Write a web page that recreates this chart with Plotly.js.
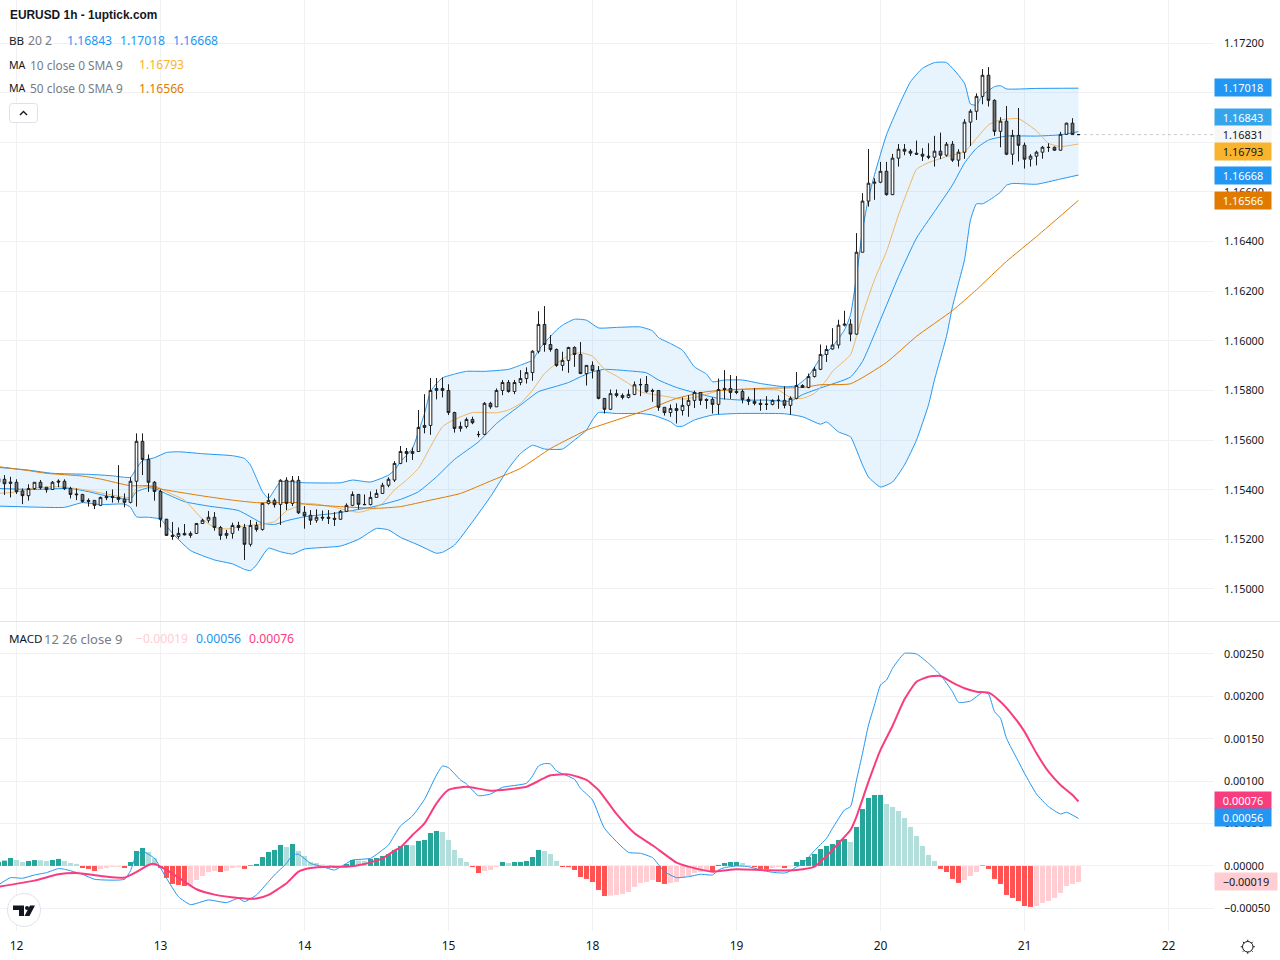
<!DOCTYPE html>
<html><head><meta charset="utf-8">
<script src="https://cdn.plot.ly/plotly-3.0.1.min.js"></script>
<style>html,body{margin:0;padding:0;background:#fff}#c{width:1280px;height:960px}</style>
</head><body><div id="c"></div>
<script>
// Prices are in 1e-5 units (pipettes); MACD values are in 1e-5 units too.
const firstBar = -3;
const opens = [115445,115442,115431,115430,115395,115376,115405,115430,115410,115401,115435,115434,115405,115383,115381,115357,115357,115337,115373,115373,115369,115362,115349,115434,115595,115522,115430,115393,115281,115216,115212,115224,115216,115224,115264,115277,115289,115248,115216,115224,115256,115248,115180,115256,115240,115345,115357,115341,115438,115345,115438,
115309,115297,115277,115289,115289,115285,115281,115313,115337,115381,115341,115340,115369,115385,115418,115439,115506,115554,115546,115554,115651,115659,115800,115808,115800,115711,115647,115655,115683,115623,115623,115748,115734,115800,115832,115796,115832,115848,115872,115958,116066,115985,115965,115901,115921,
115973,115945,115868,115901,115880,115768,115724,115787,115780,115772,115784,115824,115824,115800,115800,115732,115711,115727,115719,115740,115760,115792,115764,115764,115744,115808,115808,115796,115796,115764,115756,115748,115745,115744,115761,115760,115740,115768,115820,115812,115856,115885,115945,
115967,115983,116063,116067,116027,116357,116563,116635,116639,116683,116589,116736,116772,116764,116756,116752,116744,116740,116764,116748,116792,116728,116760,116881,116925,116985,117070,116969,116844,116885,116752,116828,116788,116732,116744,116760,116780,116780,116768,116832,116877,116831];
const highs = [115455,115459,115452,115442,115405,115422,115430,115439,115410,115435,115442,115442,115412,115405,115383,115365,115358,115372,115395,115401,115499,115385,115450,115627,115627,115542,115435,115401,115283,115270,115248,115262,115232,115264,115283,115314,115310,115254,115238,115267,115271,115262,115278,115271,115345,115385,115365,115442,115450,115455,115455,
115334,115318,115321,115316,115318,115310,115318,115345,115393,115381,115381,115393,115401,115428,115450,115515,115576,115568,115570,115721,115785,115850,115850,115852,115825,115714,115674,115691,115694,115636,115753,115754,115808,115842,115842,115842,115882,115893,115962,116119,116140,116023,115969,115956,115976,
115978,115995,115901,115917,115898,115768,115804,115804,115788,115804,115836,115848,115858,115807,115800,115732,115743,115748,115772,115781,115799,115792,115768,115772,115848,115882,115862,115858,115804,115775,115809,115764,115777,115764,115780,115817,115776,115874,115825,115868,115895,115985,115981,
116051,116085,116121,116087,116434,116595,116773,116655,116721,116721,116753,116793,116793,116772,116807,116776,116796,116826,116839,116801,116805,116772,116893,116933,116997,117095,117103,116973,116901,116946,116850,116938,116799,116752,116766,116785,116796,116783,116842,116879,116897,116833];
const lows = [115399,115379,115369,115383,115342,115356,115399,115401,115388,115399,115410,115399,115365,115358,115348,115332,115322,115334,115358,115348,115348,115329,115345,115332,115459,115391,115356,115248,115214,115198,115203,115216,115206,115222,115262,115267,115235,115198,115203,115203,115235,115117,115171,115231,115235,115340,115328,115258,115318,115334,115302,
115243,115258,115267,115275,115262,115254,115278,115310,115334,115321,115338,115337,115369,115383,115410,115431,115503,115511,115520,115552,115627,115621,115764,115772,115701,115630,115634,115647,115664,115611,115620,115726,115734,115781,115791,115785,115821,115828,115839,115949,115956,115956,115895,115879,115871,
115895,115866,115820,115848,115764,115707,115721,115772,115764,115768,115781,115777,115791,115754,115718,115699,115694,115667,115699,115694,115729,115741,115726,115707,115705,115764,115766,115785,115748,115741,115740,115718,115721,115740,115726,115728,115702,115764,115812,115809,115852,115882,115915,
115964,115969,116058,115998,116024,116356,116541,116568,116635,116585,116587,116702,116748,116745,116750,116725,116732,116702,116732,116742,116721,116702,116733,116785,116890,116953,116944,116826,116780,116748,116709,116723,116694,116702,116707,116734,116761,116766,116766,116830,116831,116830];
const closes = [115430,115424,115426,115392,115376,115405,115430,115408,115400,115430,115431,115404,115381,115380,115353,115353,115337,115369,115368,115369,115361,115349,115434,115595,115522,115430,115393,115281,115216,115212,115224,115218,115224,115264,115277,115289,115248,115216,115224,115256,115248,115180,115256,115240,115345,115357,115340,115438,115345,115438,115307,
115295,115277,115289,115286,115285,115281,115313,115337,115381,115341,115340,115369,115385,115418,115442,115506,115554,115546,115554,115651,115659,115800,115808,115800,115711,115647,115655,115683,115670,115622,115748,115734,115800,115832,115796,115832,115848,115872,115958,116066,115985,115965,115901,115921,115973,
115945,115868,115901,115880,115768,115724,115787,115780,115772,115784,115823,115823,115795,115797,115732,115711,115727,115719,115740,115760,115792,115760,115760,115744,115804,115804,115792,115792,115764,115756,115748,115744,115744,115760,115760,115740,115768,115820,115812,115856,115885,115945,115965,
115983,116063,116067,116027,116357,116563,116635,116639,116683,116589,116736,116772,116764,116756,116752,116744,116740,116764,116748,116792,116728,116760,116881,116925,116985,117070,116969,116844,116885,116752,116828,116788,116732,116744,116760,116780,116779,116768,116832,116877,116831,116831];

const bbUpperBars = [-3,2,6,12,16,18,19,20,21,23,25,27,31,36,38,39,40,41,42,43,44,48,54,56,59,62,63,64,66,67,68,69,70,71,73,75,78,82,84,86,87,88,90,91,93,95,97,100,104,106,107,109,111,113,115,116,118,121,124,128,130,132,134,136,138,139,140,141,142,143,145,147,149,151,153,155,158,159,160,161,163,164,165,170,177];
const bbUpperVals = [115490,115479,115466,115462,115456,115450,115450,115486,115517,115529,115550,115553,115545,115537,115526,115499,115446,115392,115365,115399,115432,115428,115428,115439,115431,115459,115479,115513,115567,115634,115707,115795,115828,115851,115866,115877,115877,115885,115902,115922,115962,115992,116043,116063,116087,116083,116052,116054,116056,116040,116013,115989,115962,115895,115866,115835,115842,115842,115828,115815,115819,115858,115930,115977,116044,116105,116259,116447,116575,116669,116830,116944,117044,117098,117121,117121,117038,116954,116950,116991,117024,117028,117015,117017,117018];
const bbBasisBars = [-3,3,9,12,15,19,20,22,23,25,28,32,37,41,43,45,48,53,59,64,67,70,73,77,80,84,87,90,92,94,96,98,102,105,107,110,113,117,121,125,129,131,134,139,141,144,147,150,153,156,158,160,162,165,170,174,177];
const bbBasisVals = [115405,115401,115405,115392,115375,115362,115392,115408,115405,115383,115352,115334,115316,115265,115260,115275,115291,115305,115329,115361,115392,115452,115522,115593,115667,115741,115795,115817,115832,115855,115875,115885,115879,115871,115842,115812,115791,115768,115761,115761,115757,115783,115810,115854,115917,116085,116259,116414,116521,116628,116716,116776,116809,116825,116825,116830,116843];
const bbLowerBars = [-3,3,8,11,14,18,19,20,22,24,26,29,33,36,38,39,40,42,44,46,48,54,57,60,62,64,67,70,71,73,76,79,82,84,86,88,91,93,95,96,97,100,104,106,109,110,111,113,116,120,128,131,134,135,137,139,140,141,142,144,146,148,150,152,153,154,155,156,157,158,159,160,161,162,163,164,165,166,170,174,177];
const bbLowerVals = [115334,115330,115329,115348,115340,115342,115329,115291,115289,115281,115224,115155,115117,115101,115079,115074,115097,115164,115150,115141,115161,115173,115200,115244,115238,115208,115177,115144,115148,115177,115271,115372,115486,115546,115579,115564,115564,115600,115640,115681,115711,115707,115707,115701,115674,115656,115656,115681,115701,115707,115706,115694,115664,115673,115633,115613,115560,115500,115451,115411,115431,115500,115600,115742,115843,115930,116018,116138,116232,116326,116487,116552,116552,116565,116581,116599,116627,116634,116631,116652,116668];
const ma10Bars = [-3,0,3,7,11,15,19,20,23,25,28,31,33,35,38,41,43,45,47,48,50,53,57,59,61,63,65,67,69,71,73,76,80,82,84,86,88,90,92,94,96,98,100,102,104,106,108,111,114,117,121,125,127,129,131,133,135,136,139,140,141,143,145,147,149,150,152,155,158,160,162,164,167,170,172,174,177];
const ma10Vals = [115385,115391,115407,115412,115401,115383,115369,115405,115416,115392,115358,115281,115248,115242,115254,115262,115271,115315,115334,115345,115342,115329,115309,115321,115345,115399,115439,115486,115573,115654,115683,115711,115710,115721,115748,115801,115868,115909,115940,115952,115938,115885,115858,115828,115795,115784,115777,115765,115777,115799,115804,115804,115801,115772,115768,115788,115842,115877,115944,116018,116105,116246,116360,116507,116635,116691,116718,116742,116762,116816,116870,116890,116895,116846,116796,116783,116793];
const ma50Bars = [-3,2,5,11,14,19,22,24,31,36,40,47,48,54,60,64,69,74,79,84,89,92,95,100,105,110,115,120,125,131,134,139,145,150,156,160,165,170,177];
const ma50Vals = [115493,115477,115466,115455,115443,115416,115416,115403,115375,115358,115348,115348,115342,115332,115325,115332,115358,115385,115435,115486,115566,115604,115640,115681,115721,115768,115795,115804,115809,115812,115823,115827,115913,116018,116122,116206,116320,116420,116566];

const macdHist = [5,6.3,9.4,7,4.7,5.9,7,6.8,5.9,7,8.3,5.9,3.5,2.4,-2.4,-3.5,-5.9,-3.5,-2.4,-1.2,-1,-2.4,4.7,17.7,21.2,16.5,9.4,-2.4,-14.1,-21.2,-22.4,-23.6,-22.4,-16.5,-11.8,-7.1,-5.9,-7.1,-5.9,-2.4,-1.6,-3.5,0.8,2.4,10.6,16.5,18.9,24.8,22.4,25.9,17.7,11.8,4.7,3.5,1.6,-2,-2.2,-1.2,2.4,7,6.5,6,8.3,9.4,11.8,14.1,18.9,
23.6,24.8,24.4,29.5,30.7,38.9,41.3,40.1,30.7,18.9,9.4,4.7,-1.2,-8.3,-5.9,-4.7,-1.2,4.7,3.5,4.7,4.8,5.9,10.6,18.9,17.7,14.1,5.9,-1.2,-1.4,-4.7,-13,-15.3,-18.9,-28.3,-35.4,-35,-34.2,-33,-30.7,-24.8,-20,-18.9,-16.5,-18.9,-21.2,-20,-18.9,-14.1,-11.8,-8.3,-7,-4.7,-6,1.2,3.5,4.7,4.8,3.5,0.8,-1.2,-3.5,-3.6,-2.4,-1.2,-2.4,-0.5,
4.7,7.1,10.6,14.1,20,23.6,25.9,30.7,31.8,28.3,46,67.2,80.2,83.7,83.8,73.1,69.6,64.8,56.6,46,35.4,23.6,13,5.9,-3.5,-7.1,-15.3,-20,-16.5,-11.8,-7.1,0.6,-3.5,-15.3,-21.2,-34.2,-37.7,-41.3,-47.2,-48.3,-47.2,-43.6,-41.3,-37.7,-31.8,-23.6,-21.2,-19];
const macdBars = [-3,-1,1,3,5,7,8,11,13,18,19,20,21,23,25,27,29,32,35,37,38,40,42,43,45,46,47,49,51,53,55,56,59,61,62,64,66,68,70,71,72,74,75,77,79,81,85,86,87,88,89,90,93,94,96,98,102,104,106,108,110,112,114,116,117,118,120,122,124,126,128,129,130,131,133,135,136,138,139,140,141,142,143,144,145,146,147,148,150,152,154,156,157,159,161,162,163,164,165,167,168,170,172,174,175,177];
const macdVals = [-22.4,-13.8,-14.5,-10.6,-7.9,-3.1,-3.9,-9.8,-15.7,-15.7,-5.5,13,16.9,9,-14.5,-36.2,-45.6,-40.1,-43.2,-38.1,-42.1,-34.2,-18.5,-10.6,3.1,13,13.8,3.1,-0.8,-4.7,3.1,7,9,18.9,24.8,47.2,59,78.6,107.3,117.9,115.9,101.4,96.7,82.9,84.9,92.7,97.5,106.1,117.9,120.7,120.3,112,102.2,91.6,77.8,44.4,16.1,14.9,9.8,-6.7,-13.8,-12.6,-9.8,-10.6,-4.7,-2,0,-0.8,-4.7,-7.5,-8.3,-5.9,-1,2.4,18.1,32.6,44.4,66,70,101.4,132.8,166.2,189.8,213.4,219.3,233,242.9,250.7,250,239,225.2,205.5,193,194.5,204.8,202.8,182,174.1,150.5,123,109.3,84.9,70,61.3,63.3,56];
const signalBars = [-3,3,7,10,14,18,20,22,23,25,28,30,33,37,40,42,45,47,49,52,55,58,61,63,64,66,68,70,72,75,79,85,87,89,92,95,97,100,103,106,110,112,116,120,125,130,133,135,137,139,140,142,144,146,148,150,152,154,156,158,160,162,164,166,168,170,172,174,176,177];
const signalVals = [-24.4,-17.3,-9.8,-8.3,-11.8,-13.8,-7.1,1.2,2.4,-4.7,-18.5,-27.5,-33.8,-37.7,-38.5,-34.2,-20.4,-6.7,-2.4,-0.8,-0.8,2.4,9,18.1,22,36.5,50.3,73.9,89.6,93.5,88.8,93.5,100.2,106.9,108,101.4,89.6,61.3,38.5,24.4,3.9,-0.8,-6.7,-3.9,-5.1,-4.7,-0.8,11.8,26.7,42.4,58.2,99.4,136.8,165.1,196.5,217.3,223.2,224,216.2,209.5,205.5,204.4,193.7,178,158.4,132.8,111.2,95.5,83.7,76];

const dayBars = [0,24,48,72,96,120,144,168,192];
const dayLabels = ['12','13','14','15','18','19','20','21','22'];
const priceTicks = [1.15,1.152,1.154,1.156,1.158,1.16,1.162,1.164,1.166,1.168,1.17,1.172];
const priceTickLabels = ['1.15000','1.15200','1.15400','1.15600','1.15800','1.16000','1.16200','1.16400','1.16600','1.16800','1.17000','1.17200'];
const macdTicks = [-0.0005,0,0.0005,0.001,0.0015,0.002,0.0025];
const macdTickLabels = ['\u22120.00050','0.00000','0.00050','0.00100','0.00150','0.00200','0.00250'];
const lastPrices = {last:1.16831, bbBasis:1.16843, bbUpper:1.17018, bbLower:1.16668, ma10:1.16793, ma50:1.16566};
const lastMacd = {hist:-0.00019, macd:0.00056, signal:0.00076};

const S = 1e5;
const px = v => v.map(x => x / S);
const bars = opens.map((_, k) => k + firstBar);
const W = 1214, H = 931, MW = 1280;
const X = p => p / W, Y = p => (H - p) / H;
const priceRange = [1.14871, 1.173733];
const macdRange = [-0.000767, 0.002877];

const BLUE = '#2196f3', MA10C = '#f0b55f', MA50C = '#e07b00', PINK = '#f83d7f';
const GRID = '#f1f1f4';
const histColors = macdHist.map((v, k) => {
  const up = k === 0 || v >= macdHist[k - 1];
  return v >= 0 ? (up ? '#26a69a' : '#b2dfdb') : (up ? '#ffcdd2' : '#ff5252');
});
const line = (x, y, color, width, ya, extra) => Object.assign({
  type: 'scatter', mode: 'lines', x, y, yaxis: ya, xaxis: 'x', hoverinfo: 'skip',
  line: {color, width, shape: 'spline', smoothing: 0.5}, showlegend: false
}, extra || {});

const traces = [
  line(bbLowerBars, px(bbLowerVals), BLUE, 1, 'y'),
  line(bbUpperBars, px(bbUpperVals), BLUE, 1, 'y', {fill: 'tonexty', fillcolor: 'rgba(33,150,243,0.105)'}),
  line(bbBasisBars, px(bbBasisVals), BLUE, 1, 'y'),
  line(ma10Bars, px(ma10Vals), MA10C, 1, 'y'),
  line(ma50Bars, px(ma50Vals), MA50C, 1, 'y'),
  {type: 'candlestick', x: bars, open: px(opens), high: px(highs), low: px(lows), close: px(closes),
   xaxis: 'x', yaxis: 'y3', whiskerwidth: 0, showlegend: false, hoverinfo: 'skip',
   increasing: {line: {color: '#1c1c1c', width: 1}, fillcolor: '#ffffff'},
   decreasing: {line: {color: '#1c1c1c', width: 1}, fillcolor: '#737373'}},
  {type: 'bar', x: bars, y: px(macdHist), xaxis: 'x', yaxis: 'y2', marker: {color: histColors, line: {width: 0}}, showlegend: false, hoverinfo: 'skip'},
  line(macdBars, px(macdVals), BLUE, 1, 'y2'),
  line(signalBars, px(signalVals), PINK, 2, 'y2')
];

const FONT = '"Noto Sans", sans-serif';
const anns = [];
const txt = (text, x, y, color, size, fam) => anns.push({text, x: X(x - 1), y: Y(y), xref: 'paper', yref: 'paper', xanchor: 'left', yanchor: 'middle', showarrow: false, borderpad: 0, font: {family: fam || FONT, size: size || 12.2, color}});
txt('<b>EURUSD 1h - 1uptick.com</b>', 10, 15.5, '#131722', 11.9, '"Liberation Sans", sans-serif');
txt('BB', 9, 40.5, '#131722', 11.6); txt('20 2', 28, 40.5, '#787b86');
txt('1.16843', 67, 40.5, BLUE); txt('1.17018', 120, 40.5, BLUE); txt('1.16668', 173, 40.5, BLUE);
txt('MA', 9, 64.5, '#131722', 10.6); txt('10 close 0 SMA 9', 30, 64.5, '#787b86', 11.9); txt('1.16793', 139, 64.5, '#f9b42d');
txt('MA', 9, 88.5, '#131722', 10.6); txt('50 close 0 SMA 9', 30, 88.5, '#787b86', 11.9); txt('1.16566', 139, 88.5, MA50C);
txt('MACD', 9, 638.5, '#131722', 11.6); txt('12 26 close 9', 44, 638.5, '#787b86', 13);
txt('\u22120.00019', 136, 638.5, '#ffcdd2'); txt('0.00056', 196, 638.5, BLUE); txt('0.00076', 249, 638.5, PINK);

const tag = (value, py, bg, color, w) => anns.push({
  text: (value < 0 ? '\u2212' : '') + Math.abs(value).toFixed(5), x: 1, y: Y(py), xref: 'paper', yref: 'paper',
  xanchor: 'left', yanchor: 'middle', showarrow: false, width: w || 56, height: 17, bgcolor: bg, borderpad: 0, align: 'center',
  font: {family: FONT, size: 10.9, color}
});
tag(lastPrices.bbUpper, 88, '#2196f3', '#ffffff');
tag(lastPrices.bbBasis, 117.5, '#36a4ea', '#ffffff');
tag(lastPrices.last, 134.5, '#f7f7f7', '#131722');
tag(lastPrices.ma10, 151.5, '#f9b42d', '#131722');
tag(lastPrices.bbLower, 175.5, '#2196f3', '#ffffff');
tag(lastPrices.ma50, 200.5, '#e07b00', '#ffffff');
tag(lastMacd.signal, 800.5, '#f83d7f', '#ffffff');
tag(lastMacd.macd, 817.5, '#2196f3', '#ffffff');
tag(lastMacd.hist, 881.5, '#ffcdd2', '#131722', 62);

const P = (x, y) => X(x).toFixed(5) + ',' + Y(y).toFixed(5);
const pathOf = pts => 'M' + pts.map(p => P(p[0], p[1])).join('L') + 'Z';
const roundRect = (x0, y0, x1, y1, r) => 'M' + P(x0 + r, y0) + 'L' + P(x1 - r, y0) + 'Q' + P(x1, y0) + ' ' + P(x1, y0 + r) + 'L' + P(x1, y1 - r) + 'Q' + P(x1, y1) + ' ' + P(x1 - r, y1) + 'L' + P(x0 + r, y1) + 'Q' + P(x0, y1) + ' ' + P(x0, y1 - r) + 'L' + P(x0, y0 + r) + 'Q' + P(x0, y0) + ' ' + P(x0 + r, y0) + 'Z';
const gearTicks = [[0, -1], [0, 1], [-1, 0], [1, 0], [-0.7, -0.7], [0.7, -0.7], [-0.7, 0.7], [0.7, 0.7]]
  .map(d => 'M' + P(1247.75 + d[0] * 5.2, 946.75 + d[1] * 5.2) + 'L' + P(1247.75 + d[0] * 7, 946.75 + d[1] * 7)).join('');
const shapes = [
  {type: 'line', xref: 'paper', yref: 'paper', x0: 0, x1: MW / W, y0: Y(621.5), y1: Y(621.5), line: {color: '#e0e3eb', width: 1}},
  {type: 'line', xref: 'paper', yref: 'y', x0: X(1078), x1: 1, y0: lastPrices.last, y1: lastPrices.last, line: {color: 'rgba(19,23,34,0.22)', width: 1, dash: 'dot'}},
  {type: 'path', xref: 'paper', yref: 'paper', path: roundRect(9.5, 103.5, 37.5, 122.5, 3), line: {color: '#dfe1e6', width: 1}, fillcolor: '#ffffff'},
  {type: 'path', xref: 'paper', yref: 'paper', path: 'M' + P(20, 115) + 'L' + P(23.5, 111.5) + 'L' + P(27, 115), line: {color: '#131722', width: 1.4}},
  {type: 'circle', xref: 'paper', yref: 'paper', x0: X(7.5), x1: X(40.5), y0: Y(926.5), y1: Y(893.5), line: {color: '#e0e3eb', width: 1}, fillcolor: '#ffffff'},
  {type: 'path', xref: 'paper', yref: 'paper', path: pathOf([[13, 905.5], [24, 905.5], [24, 916], [19, 916], [19, 910], [13, 910]]), fillcolor: '#131722', line: {width: 0}},
  {type: 'path', xref: 'paper', yref: 'paper', path: pathOf([[30, 905.5], [35, 905.5], [29.5, 916], [24.5, 916]]), fillcolor: '#131722', line: {width: 0}},
  {type: 'circle', xref: 'paper', yref: 'paper', x0: X(25), x1: X(29), y0: Y(910), y1: Y(906), fillcolor: '#131722', line: {width: 0}},
  {type: 'circle', xref: 'paper', yref: 'paper', x0: X(1242.5), x1: X(1253), y0: Y(952), y1: Y(941.5), line: {color: '#131722', width: 1}},
  {type: 'path', xref: 'paper', yref: 'paper', path: gearTicks, line: {color: '#131722', width: 1}}
];

const yCommon = {side: 'right', tickmode: 'array', ticks: '', showline: false, zeroline: false, gridcolor: GRID, gridwidth: 1, ticklabelstandoff: 9, tickfont: {family: FONT, size: 10.8, color: '#131722'}, fixedrange: true};
const layout = {
  width: 1280, height: 960, autosize: false, margin: {l: 0, r: 66, t: 0, b: 29, pad: 0},
  paper_bgcolor: '#ffffff', plot_bgcolor: '#ffffff', showlegend: false, boxgap: 0.36, bargap: 0.17,
  xaxis: {range: [-16.5 / 6, (W - 16.5) / 6], anchor: 'y2', tickmode: 'array', tickvals: dayBars, ticktext: dayLabels, showgrid: true, gridcolor: GRID, zeroline: false, showline: false, ticks: '', ticklabelstandoff: 6, tickfont: {family: FONT, size: 12, color: '#131722'}, rangeslider: {visible: false}, fixedrange: true},
  yaxis: Object.assign({}, yCommon, {domain: [(H - 621) / H, 1], range: priceRange, tickvals: priceTicks, ticktext: priceTickLabels, anchor: 'x'}),
  yaxis2: Object.assign({}, yCommon, {domain: [0, (H - 622) / H], range: macdRange, tickvals: macdTicks, ticktext: macdTickLabels, anchor: 'x'}),
  yaxis3: {overlaying: 'y', side: 'right', range: priceRange, visible: false, showgrid: false, anchor: 'x', fixedrange: true},
  annotations: anns, shapes
};
Plotly.newPlot('c', traces, layout, {staticPlot: true, displayModeBar: false});
</script></body></html>
